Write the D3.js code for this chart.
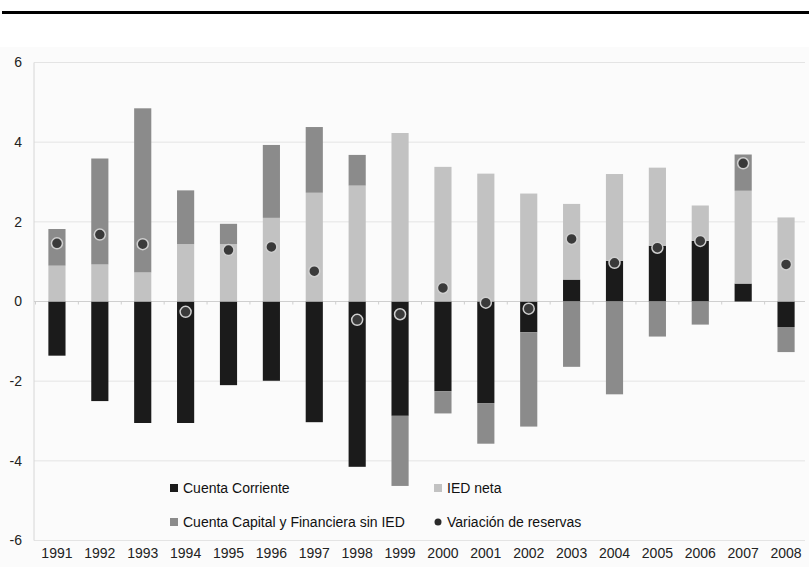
<!DOCTYPE html>
<html>
<head>
<meta charset="utf-8">
<script src="https://cdn.jsdelivr.net/npm/d3@7"></script>
<style>
  body { margin: 0; background: #fff; }
  text { font-family: "Liberation Sans", Arial, sans-serif; }
</style>
</head>
<body>
<div id="chart"></div>
<script>
// datos (% del PIB)
const years = ['1991','1992','1993','1994','1995','1996','1997','1998','1999',
               '2000','2001','2002','2003','2004','2005','2006','2007','2008'];
const cuentaCorriente = [-1.36,-2.50,-3.05,-3.05,-2.10,-1.99,-3.03,-4.15,-2.87,
                         -2.25,-2.55,-0.77,0.55,1.02,1.40,1.52,0.45,-0.64];
const iedNeta = [0.90,0.93,0.73,1.44,1.44,2.10,2.73,2.91,4.23,
                 3.38,3.21,2.71,1.90,2.18,1.96,0.89,2.33,2.11];
const cuentaCapital = [0.92,2.66,4.12,1.35,0.51,1.83,1.65,0.77,-1.76,
                       -0.56,-1.02,-2.37,-1.64,-2.33,-0.88,-0.58,0.91,-0.63];
const reservas = [1.46,1.68,1.44,-0.26,1.29,1.37,0.76,-0.46,-0.32,
                  0.34,-0.03,-0.18,1.57,0.97,1.35,1.52,3.47,0.93];
const yTicks = [-6,-4,-2,0,2,4,6];

const keys = ['cc','ied','cap'];
const names = {cc:'Cuenta Corriente', ied:'IED neta', cap:'Cuenta Capital y Financiera sin IED'};
const colors = {cc:'#1b1b1b', ied:'#c2c2c2', cap:'#8b8b8b'};

const W = 809, H = 567;
const svg = d3.select('#chart').append('svg').attr('width',W).attr('height',H);
svg.append('rect').attr('width',W).attr('height',H).attr('fill','#fff');
svg.append('rect').attr('y',47).attr('width',W).attr('height',H-47).attr('fill','#fbfbfb');

// linea superior
svg.append('line').attr('x1',2).attr('x2',W).attr('y1',12.5).attr('y2',12.5)
  .attr('stroke','#000').attr('stroke-width',3);

const x = d3.scaleBand().domain(years).range([35.5,807.5]).paddingInner(0.6).paddingOuter(0.3);
const y = d3.scaleLinear().domain([-6,6]).range([540.5,62.5]);

// grid
svg.append('g').selectAll('line').data(yTicks).enter().append('line')
  .attr('x1',34).attr('x2',805)
  .attr('y1',d => y(d)).attr('y2',d => y(d))
  .attr('stroke','#e4e4e4').attr('stroke-width',1);
svg.append('line').attr('x1',34).attr('x2',34).attr('y1',y(6)).attr('y2',y(-6))
  .attr('stroke','#d6d6d6');

// eje y
const gy = svg.append('g').attr('transform','translate(34,0)')
  .call(d3.axisLeft(y).tickValues(yTicks).tickSize(0).tickPadding(12).tickFormat(d => String(d)));
gy.select('.domain').remove();
gy.selectAll('text').attr('font-size',14).attr('fill','#222');

// eje en cero con marcas entre categorias
svg.append('line').attr('x1',34).attr('x2',805).attr('y1',y(0)).attr('y2',y(0))
  .attr('stroke','#cfcfcf');
svg.append('g').selectAll('line').data(years).enter().append('line')
  .attr('x1',d => x(d) - x.step()*x.paddingInner()/2)
  .attr('x2',d => x(d) - x.step()*x.paddingInner()/2)
  .attr('y1',y(0)).attr('y2',y(0)+3)
  .attr('stroke','#cfcfcf');

// etiquetas x
const gx = svg.append('g').attr('transform','translate(0,'+y(-6)+')')
  .call(d3.axisBottom(x).tickSize(0).tickPadding(8));
gx.select('.domain').remove();
gx.selectAll('text').attr('font-size',14).attr('fill','#222');

// barras apiladas
const rows = years.map((yr,i) => ({year:yr, cc:cuentaCorriente[i], ied:iedNeta[i], cap:cuentaCapital[i]}));
const series = d3.stack().keys(keys).offset(d3.stackOffsetDiverging)(rows);
svg.append('g').selectAll('g').data(series).enter().append('g')
  .attr('fill',s => colors[s.key])
  .selectAll('rect').data(s => s).enter().append('rect')
  .attr('x',d => x(d.data.year))
  .attr('width',x.bandwidth())
  .attr('y',d => y(Math.max(d[0],d[1])))
  .attr('height',d => Math.abs(y(d[0]) - y(d[1])));

// variacion de reservas
svg.append('g').selectAll('circle').data(reservas).enter().append('circle')
  .attr('cx',(d,i) => x(years[i]) + x.bandwidth()/2)
  .attr('cy',d => y(d))
  .attr('r',5.5)
  .attr('fill','#3a3a3a')
  .attr('stroke','#cfcfcf').attr('stroke-width',1.5);

// leyenda
const legend = [
  {key:'cc', x:170, y:488},
  {key:'ied', x:434, y:488},
  {key:'cap', x:170, y:522},
  {key:'res', x:434, y:522}
];
const lg = svg.append('g').selectAll('g').data(legend).enter().append('g')
  .attr('transform',d => 'translate('+d.x+','+d.y+')');
lg.filter(d => d.key!='res').append('rect')
  .attr('x',0).attr('y',-4).attr('width',8).attr('height',8)
  .attr('fill',d => colors[d.key]);
lg.filter(d => d.key=='res').append('circle')
  .attr('cx',4).attr('cy',0).attr('r',3.5).attr('fill','#2a2a2a');
lg.append('text').attr('x',13).attr('y',5).attr('font-size',14).attr('fill','#111')
  .text(d => d.key=='res' ? 'Variación de reservas' : names[d.key]);
</script>
</body>
</html>
